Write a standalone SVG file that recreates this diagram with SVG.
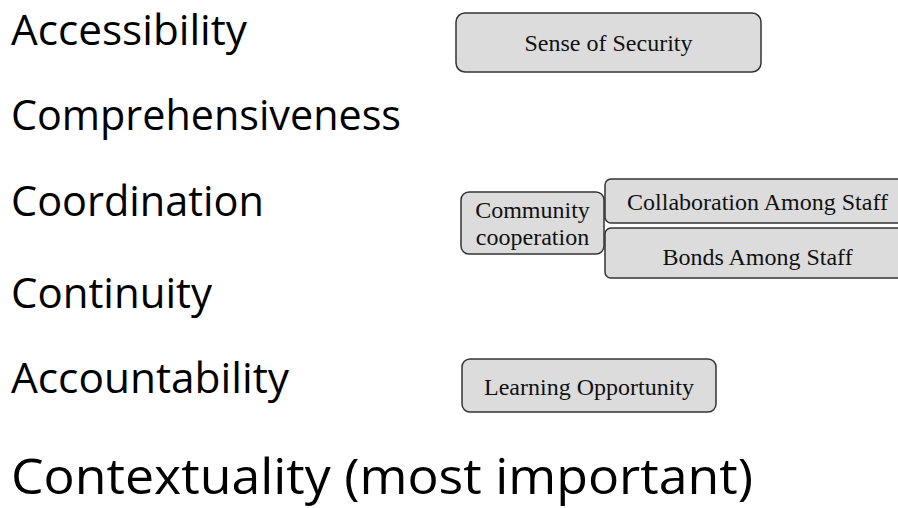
<svg xmlns="http://www.w3.org/2000/svg" width="898" height="508" viewBox="0 0 898 508">
  <style>
    .item { font-family: "Open Sans", "Noto Sans", "DejaVu Sans", sans-serif; font-size: 42px; fill: #000; }
    .title { font-family: "Open Sans", "Noto Sans", "DejaVu Sans", sans-serif; font-size: 50px; fill: #000; }
    .box { fill: #dcdcdc; stroke: #333333; stroke-width: 1.5; }
    .lbl { font-family: "Liberation Serif", "Times New Roman", serif; font-size: 24px; fill: #111; text-anchor: middle; }
  </style>
  <rect width="898" height="508" fill="#ffffff"/>

  <g id="list">
    <text class="item" x="11" y="45" textLength="236" lengthAdjust="spacingAndGlyphs">Accessibility</text>
    <text class="item" x="11" y="130" textLength="390" lengthAdjust="spacingAndGlyphs">Comprehensiveness</text>
    <text class="item" x="11" y="216" textLength="253" lengthAdjust="spacingAndGlyphs">Coordination</text>
    <text class="item" x="11" y="308" textLength="201" lengthAdjust="spacingAndGlyphs">Continuity</text>
    <text class="item" x="11" y="393" textLength="278" lengthAdjust="spacingAndGlyphs">Accountability</text>
    <text class="title" x="11" y="494" textLength="742" lengthAdjust="spacingAndGlyphs">Contextuality (most important)</text>
  </g>

  <g id="node-sense-of-security">
    <rect class="box" x="456" y="13" width="305" height="59" rx="9" ry="9"/>
    <text class="lbl" x="608.5" y="51">Sense of Security</text>
  </g>

  <g id="node-community-cooperation">
    <rect class="box" x="461" y="192" width="143" height="62" rx="8" ry="8"/>
    <text class="lbl" x="532.5" y="218">Community</text>
    <text class="lbl" x="532.5" y="245">cooperation</text>
  </g>

  <g id="node-collaboration">
    <rect class="box" x="605" y="179" width="305" height="44" rx="6" ry="6"/>
    <text class="lbl" x="757.5" y="210">Collaboration Among Staff</text>
  </g>

  <g id="node-bonds">
    <rect class="box" x="605" y="228" width="305" height="50" rx="6" ry="6"/>
    <text class="lbl" x="757.5" y="265">Bonds Among Staff</text>
  </g>

  <g id="node-learning-opportunity">
    <rect class="box" x="462" y="359" width="254" height="53" rx="8" ry="8"/>
    <text class="lbl" x="589" y="395">Learning Opportunity</text>
  </g>

  <g id="connectors"></g>
</svg>
